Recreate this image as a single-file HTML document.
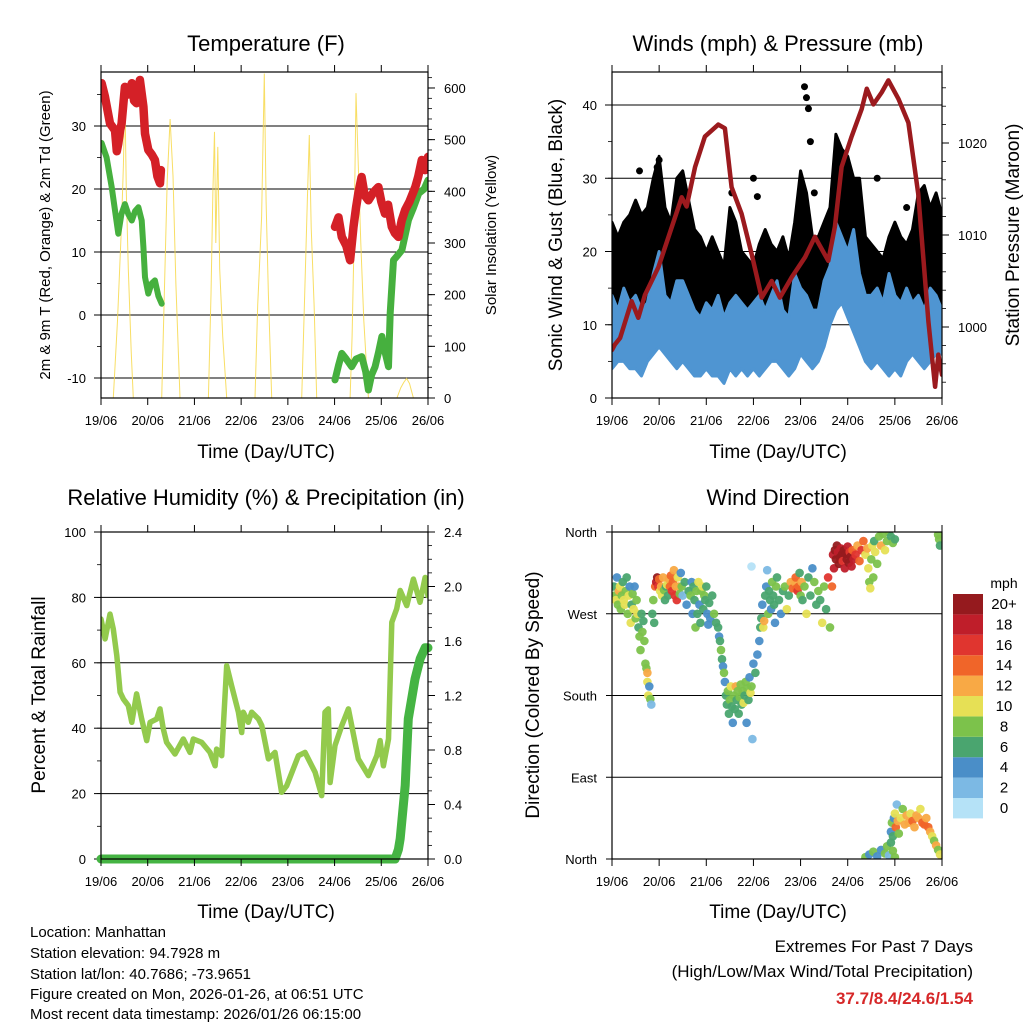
<!DOCTYPE html>
<html><head><meta charset="utf-8">
<style>
html,body{margin:0;padding:0;background:#fff;}
svg{display:block;font-family:"Liberation Sans",Arial,sans-serif;}
.tl{font-size:13px;fill:#000;}
.ttl{font-size:22px;fill:#000;}
.ax{font-size:19px;fill:#000;}
.info{font-size:15px;fill:#000;}
</style></head>
<body>
<svg id="chart" width="1024" height="1024" viewBox="0 0 1024 1024" xmlns="http://www.w3.org/2000/svg">
<defs>
<clipPath id="c1"><rect x="101" y="72" width="327" height="326"/></clipPath>
<clipPath id="c2"><rect x="612" y="72" width="330" height="326"/></clipPath>
<clipPath id="c3"><rect x="101" y="532" width="327" height="327"/></clipPath>
<clipPath id="c4"><rect x="612" y="532" width="330" height="327"/></clipPath>
</defs>
<text class="ttl" x="266" y="51" text-anchor="middle">Temperature (F)</text>
<text class="ttl" x="778" y="51" text-anchor="middle">Winds (mph) &amp; Pressure (mb)</text>
<text class="ttl" x="266" y="505" text-anchor="middle">Relative Humidity (%) &amp; Precipitation (in)</text>
<text class="ttl" x="778" y="505" text-anchor="middle">Wind Direction</text>
<text class="ax" x="266" y="458" text-anchor="middle">Time (Day/UTC)</text>
<text class="ax" x="778" y="458" text-anchor="middle">Time (Day/UTC)</text>
<text class="ax" x="266" y="918" text-anchor="middle">Time (Day/UTC)</text>
<text class="ax" x="778" y="918" text-anchor="middle">Time (Day/UTC)</text>
<text x="50" y="235" transform="rotate(-90 50 235)" text-anchor="middle" style="font-size:15px">2m &amp; 9m T (Red, Orange) &amp; 2m Td (Green)</text>
<text x="496" y="235" transform="rotate(-90 496 235)" text-anchor="middle" style="font-size:15px">Solar Insolation (Yellow)</text>
<text x="562" y="235" transform="rotate(-90 562 235)" text-anchor="middle" class="ax">Sonic Wind &amp; Gust (Blue, Black)</text>
<text x="1019" y="235" transform="rotate(-90 1019 235)" text-anchor="middle" class="ax">Station Pressure (Maroon)</text>
<text x="45" y="695" transform="rotate(-90 45 695)" text-anchor="middle" class="ax">Percent &amp; Total Rainfall</text>
<text x="539" y="695" transform="rotate(-90 539 695)" text-anchor="middle" class="ax">Direction (Colored By Speed)</text>
<g>
<text class="info" x="30" y="937">Location: Manhattan</text>
<text class="info" x="30" y="958">Station elevation: 94.7928 m</text>
<text class="info" x="30" y="979">Station lat/lon: 40.7686; -73.9651</text>
<text class="info" x="30" y="999">Figure created on Mon, 2026-01-26, at 06:51 UTC</text>
<text class="info" x="30" y="1019">Most recent data timestamp: 2026/01/26 06:15:00</text>
</g>
<g>
<text x="973" y="952" text-anchor="end" style="font-size:17px">Extremes For Past 7 Days</text>
<text x="973" y="977" text-anchor="end" style="font-size:17px">(High/Low/Max Wind/Total Precipitation)</text>
<text x="973" y="1004" text-anchor="end" style="font-size:17px;font-weight:bold;fill:#d62728">37.7/8.4/24.6/1.54</text>
</g>
</svg>
<script>
// ---------- data ----------
const dayLabels = ["19/06","20/06","21/06","22/06","23/06","24/06","25/06","26/06"];
const tempTicks = [-10,0,10,20,30];
const solarTicks = [0,100,200,300,400,500,600];
const windTicks = [0,10,20,30,40];
const presTicks = [1000,1010,1020];
const rhTicks = [0,20,40,60,80,100];
const precTicks = ["0.0","0.4","0.8","1.2","1.6","2.0","2.4"];
const dirTicks = [0,90,180,270,360];
const dirLabels = ["North","East","South","West","North"];
const speedLabels = ["0","2","4","6","8","10","12","14","16","18","20+"];
const speedColors = ["#b5e2f7","#7cb9e4","#4a8ec8","#4aa56f","#7cc24b","#e6e055","#f8a945","#f06529","#e0352f","#bf1e2a","#951a1e"];

const tempT1 = [0.3,2,4.6,7.2,8.1,8.9,9.8,10.6,12.3,14,15.8,17,18.3,20,21.8,22.6,24.3,26,27.7,29,30.3,30.8];
const tempV1 = [36.8,34.7,30.4,29.3,26,27.2,29.3,30.4,36.2,35,36.8,34,33.6,37.3,33.1,28.8,26.2,25.5,24.6,22,20.9,23];
const tempT2 = [120.2,122,123.7,126,128,129.7,131,132.2,133.9,135.5,137.4,140,142.5,144,145.9,147.5,149.4,151,152.8,154.5,156.3,158.5,161.5,163,164.8,166.5,168];
const tempV2 = [14,15.5,12.4,11,8.7,14,17,19.3,21.9,19,18.2,19.5,20.3,18,16.1,17.5,14,13,12.4,15,16.7,18,20.3,22,24.6,23,25.1];
const dewT1 = [0.3,2.9,5.5,8.9,10.5,12.3,14,15.8,17.5,19.2,20.9,21.8,22.6,24.3,26,27.7,29.5,31.2];
const dewV1 = [27.3,25,20.3,12.9,16,17.6,16,15,16.5,17.1,15,10.8,6,3.4,5,5.5,3,1.8];
const dewT2 = [120.2,122,123.7,126,128.8,131,134,136,137.4,139,140.8,142.5,144.3,146,147.7,148.6,150.3,152.5,154.6,156.5,158,160.5,163.2,166,168];
const dewV2 = [-10.3,-8,-6.1,-7,-8.2,-7,-6.6,-9,-11.9,-9.5,-8.2,-6,-3.4,-6,-8.2,0.3,8.7,9.5,10.3,13,15.1,17,19.3,20,21.4];
const solarT = [6.3,8.5,10.5,11.5,12.3,13,14,15.5,16.6, 31.2,32.5,34,35.5,37,38.5,40.6, 55.2,56.5,57.5,58.3,59,60,61,62.5,64.6, 79.1,80.5,81.5,82.5,83.9,84.8,86,87.7, 103.1,104.5,106,107,108,109.5,110.8, 128,129,130,131,132,133.5,135,137.4, 152,154,155.5,157,158.5,160.5];
const solarV = [0,150,330,450,590,400,250,90,0, 0,200,420,540,430,220,0, 0,200,400,515,300,486,250,120,0, 0,180,260,350,628,380,200,0, 0,180,380,509,330,180,0, 0,120,300,590,474,300,150,0, 0,20,30,38,28,0];

const windT = [0,3,6,9,12,15,18,21,24,27,30,33,36,39,42,45,48,51,54,57,60,63,66,69,72,75,78,81,84,87,90,93,96,99,102,105,108,111,114,117,120,123,126,129,132,135,138,141,144,147,150,153,156,159,162,165,168];
const gustHigh = [24,22,24,25,27,25,26,30,33,26,24,30,31,27,23,22,20,22,20,18,26,24,20,19,18,21,23,21,20,22,19,24,31,28,22,22,24,26,36,34,33,30,30,22,21,20,19,22,24,22,21,23,28,29,26,28,25];
const sustHigh = [14,12,15,13,14,12,13,17,20,14,13,16,16,14,12,11,13,12,14,11,13,14,13,12,13,14,12,14,16,12,11,17,15,14,12,12,16,18,24,22,20,23,17,14,14,15,13,17,14,13,15,13,14,12,15,14,12];
const sustLow = [4,5,5,4,4,3,5,6,7,6,5,4,5,4,3,3,4,3,3,2,4,3,4,3,4,3,4,5,5,4,3,4,6,5,4,5,7,10,12,13,11,9,7,5,4,5,4,3,4,3,5,6,5,4,5,6,6];
const gustOutT = [14,23,24,61,72,74,98,99,100,101,103,135,150];
const gustOutV = [31,31.5,32.5,28,30,27.5,42.5,41,39.5,35,28,30,26];
const presT = [0,1.5,4.1,10,13.4,16.8,23.6,35.5,38,42.3,47.3,54.1,57.5,60.9,66,71.1,76.2,81.3,85.5,91.5,98.3,103.3,110.1,113.5,116.9,122,127.1,129.7,133.1,137.3,140.7,145.8,150.9,155.9,161.1,164.5,166.1,168];
const presV = [997.5,998.1,998.8,1002.8,1001,1003.5,1006.5,1014.1,1013.1,1017.4,1020.7,1022,1021.6,1015.2,1012.3,1007.9,1003.2,1005,1003.2,1005.4,1007.6,1009.8,1007.2,1010.9,1017.4,1020.7,1023.7,1025.9,1024.2,1025.5,1026.8,1024.8,1022.2,1014.5,1000.6,993.5,997,994.8];

const rhT = [0,2.1,4.6,6.3,8.1,9.8,11.5,14,15.8,18.3,20.9,23.5,25.2,28.6,30.3,32,33.7,38,42.3,45.7,47.4,51.7,56,58.6,59.4,62,64.6,67.1,70.6,72.3,73.1,75.7,77.4,80.9,82.6,86,89.4,92.8,95.4,101.4,104.8,110,113.4,115.1,116.8,117.7,120.2,123.7,127.1,132.2,137.4,141.7,143.4,145.1,147.7,149.4,151.9,153.7,157.1,160.5,163.9,166.5,168];
const rhV = [73.4,67.3,74.9,70.3,62.2,51,48.9,46.9,41.8,50.5,42.8,36.2,41.8,42.8,45.9,39.8,35.7,32.1,36.7,32.6,36.7,35.7,32.6,28.5,33.6,31.6,59.1,53,44.9,38.7,44.9,41.8,44.9,42.8,40.8,30.6,32.6,20.4,22.4,31.6,32.6,26.5,19.4,44.9,45.9,23.4,34.7,40.8,45.9,30.6,25.5,31.6,36.2,28.5,36.7,72.4,76.5,82.1,77.5,85.6,78.5,86.1,80.5];
const precT = [0,151.1,152.8,153.7,156.3,157.9,161.3,164,166.5,168];
const precV = [0,0,0.07,0.15,0.54,1.03,1.32,1.47,1.55,1.55];

const dirT = [1,1.5,2,2.5,3,3.5,4,4.5,5,5.5,6,6.5,7,7.5,8,8.5,9,9.5,10,10.5,11,11.5,12,12.5,13,
13.5,14,14.5,15,15.5,16,16.5,17,17.5,18,18,18.5,19,19.5,20,20.5,21,21.5,
22,22.5,23,23.5,24,24.5,25,25.5,26,26.5,27,27.5,28,28.5,29,29.5,30,30.5,31,31.5,32,32.5,33,33.5,34,34.5,35,35.5,36,37,38,39,
40,40.5,41,41.5,42,42.5,43,43.5,44,44.5,45,45.5,46,46.5,47,47.5,48,48.5,49,49.5,50,51,52,53,54,54.5,55,55.5,56,56.5,57,
57.5,58,58.5,59,59.5,60,60.5,61,61.5,62,62.5,63,63.5,64,64.5,65,65.5,66,66.5,67,67.5,68,68.5,69,69.5,70,70.5,71,72,73,74,75,75.5,71.5,71,
76,76.5,77,77.5,78,78.5,79,79.5,80,80.5,81,81.5,82,82.5,83,83.5,84,85,86,87,88,89,90,91,92,
93,93.5,94,94.5,95,95.5,96,96.5,97,98,99,100,101,102,103,104,105,106,107,108,109,110,111,112,113,
112.5,113.5,114,114.5,115,115.5,116,116.5,117,117.5,118,118.5,119,119.5,120,120.5,121,121.5,122,122.5,123,124,125,126,127,128,129,130,
130.5,131,131.5,132,132.5,133,133.5,134,135,136,137,138,139,140,141,142,143,144,
166,166.5,167,
129,131,133,135,137,139,140,141,142,143,144,
142,142.5,143,143.5,144,144.5,145,145.5,146,147,148,149,150,151,152,153,154,155,156,157,158,159,160,161,162,163,164,165,166,167];
const dirV = [300,290,285,310,280,295,300,275,290,305,285,280,295,310,270,290,300,260,280,292,275,300,265,285,270,
255,245,230,270,250,262,240,215,210,205,195,180,190,176,170,270,285,260,
300,305,310,300,308,295,300,290,310,296,285,300,302,290,308,300,312,295,305,318,290,300,285,310,300,292,315,300,290,305,280,295,
290,305,270,300,285,255,295,270,305,280,260,295,300,275,290,285,300,270,258,282,265,290,270,260,255,245,240,230,220,212,205,
195,180,170,185,160,175,190,168,150,180,165,190,175,185,160,178,192,170,185,172,180,195,150,188,175,200,183,190,215,205,225,240,255,132,322,
265,280,255,262,290,300,318,270,295,285,275,305,290,280,260,300,310,285,270,295,300,275,290,305,298,
305,310,298,295,300,315,290,305,285,300,270,310,290,320,305,280,295,285,260,300,275,310,255,300,320,
335,340,330,345,338,325,332,342,335,328,340,320,336,330,344,326,338,333,322,340,330,335,345,328,340,350,335,342,
320,305,298,330,345,310,350,338,325,355,345,358,340,350,360,355,348,352,
357,352,345,
2,5,8,3,10,6,14,4,18,9,2,
30,40,25,45,50,35,60,42,28,45,55,38,48,40,50,42,35,48,45,55,40,38,45,35,30,25,20,15,10,5];
const dirS = [6,8,10,4,8,12,10,9,8,7,11,10,9,6,9,10,4,10,7,9,11,4,8,9,10,
7,9,8,6,9,7,8,9,8,12,10,11,5,9,3,7,8,6,
14,18,20,16,14,10,12,10,12,8,6,7,10,6,12,14,15,16,14,13,17,12,16,10,12,9,4,8,3,6,4,6,
8,5,4,7,6,8,9,6,10,5,7,9,10,6,8,7,6,4,4,6,5,7,8,6,6,4,7,8,6,4,9,
4,6,7,8,6,8,10,7,4,8,6,12,7,8,6,9,8,7,8,10,7,9,4,8,6,4,10,8,4,6,4,4,6,2,1,
6,4,10,12,6,4,2,8,6,7,5,8,6,7,4,9,6,7,5,6,8,10,7,12,14,
12,14,15,16,14,7,8,12,6,8,10,6,7,4,8,6,9,7,10,8,6,16,8,14,18,
18,20,22,21,19,20,23,18,22,17,21,19,24,20,18,22,16,20,19,14,18,16,12,14,16,15,10,12,
10,8,10,9,11,8,7,10,8,9,12,8,10,9,8,6,8,7,
9,8,7,
8,4,8,4,4,8,8,3,6,8,8,
4,8,6,4,10,14,2,12,8,10,8,12,13,12,10,14,12,13,12,10,14,15,12,14,12,10,8,12,9,10];

// ---------- helpers ----------
const NS = "http://www.w3.org/2000/svg";
const svg = document.getElementById("chart");
function mk(tag, attrs, parent){ const e=document.createElementNS(NS,tag); for(const k in attrs) e.setAttribute(k,attrs[k]); (parent||svg).appendChild(e); return e; }
function txt(x,y,s,anchor,parent,cls){ const e=mk("text",{x:x,y:y,"text-anchor":anchor||"middle","class":cls||"tl"},parent); e.textContent=s; return e; }

const P1={x0:101,x1:428,y0:72,y1:398}, P2={x0:612,x1:942,y0:72,y1:398}, P3={x0:101,x1:428,y0:532,y1:859}, P4={x0:612,x1:942,y0:532,y1:859};
function xs(P,t){ return P.x0 + t/168*(P.x1-P.x0); }
const yTemp = v => 315 - v*6.3;
const ySolar = v => 398 - v*0.5167;
const yWind = v => 398 - v*7.325;
const yPres = v => 327 - (v-1000)*9.2;
const yRH = v => 859 - v*3.27;
const yPrec = v => 859 - v/2.4*327;
const yDir = v => 859 - v/360*327;
function pts(P,T,V,f){ return T.map((t,i)=>xs(P,t).toFixed(1)+","+f(V[i]).toFixed(1)).join(" "); }

function xAxis(P,name){
  const g=mk("g",{});
  
  
  dayLabels.forEach((s,i)=>{
    const x=xs(P,i*24);
    mk("line",{x1:x,x2:x,y1:P.y1,y2:P.y1+7,stroke:"#000","stroke-width":1},g);
    mk("line",{x1:x,x2:x,y1:P.y0,y2:P.y0-7,stroke:"#000","stroke-width":1},g);
    const t=txt(x,P.y1+27,s,"middle",g);
    
    
  });
}
function frame(P,name){
  const r=mk("rect",{x:P.x0,y:P.y0,width:P.x1-P.x0,height:P.y1-P.y0,fill:"none",stroke:"#000","stroke-width":1.2});
  
  
}
function hgrid(P,vals,f,g){ vals.forEach(v=>{ const y=f(v); if(y>P.y0+1&&y<P.y1-1) mk("line",{x1:P.x0,x2:P.x1,y1:y,y2:y,stroke:"#000","stroke-width":1},g); }); }
function yTicks(P,vals,labels,f,side,minorStep,minMax,g){
  const x=side==="L"?P.x0:P.x1, d=side==="L"?-1:1;
  vals.forEach((v,i)=>{ const y=f(v);
    mk("line",{x1:x,x2:x+d*7,y1:y,y2:y,stroke:"#000","stroke-width":1},g);
    const t=txt(x+d*(side==="L"?15:16),y+5,labels[i],side==="L"?"end":"start",g);
    
    
  });
  if(minorStep){ for(let v=minMax[0]; v<=minMax[1]+1e-9; v+=minorStep){ const y=f(v); if(y>=P.y0-0.5&&y<=P.y1+0.5) mk("line",{x1:x,x2:x+d*4,y1:y,y2:y,stroke:"#000","stroke-width":0.8},g);} }
}

// ---------- Panel 1: temperature ----------
(function(){
  const g=mk("g",{});  
  hgrid(P1,tempTicks,yTemp,g);
  const cl=mk("g",{"clip-path":"url(#c1)"},g);
  const s=mk("polyline",{points:pts(P1,solarT,solarV,ySolar),fill:"none",stroke:"#f7d84a","stroke-width":1,opacity:0.85},cl);
   
  const d1=mk("polyline",{points:pts(P1,dewT1,dewV1,yTemp),fill:"none",stroke:"#46b03e","stroke-width":6,"stroke-linejoin":"round","stroke-linecap":"round"},cl);
   
  const d2=mk("polyline",{points:pts(P1,dewT2,dewV2,yTemp),fill:"none",stroke:"#46b03e","stroke-width":7,"stroke-linejoin":"round","stroke-linecap":"round"},cl);
   
  const r1=mk("polyline",{points:pts(P1,tempT1,tempV1,yTemp),fill:"none",stroke:"#d42027","stroke-width":8.5,"stroke-linejoin":"round","stroke-linecap":"round"},cl);
   
  const r2=mk("polyline",{points:pts(P1,tempT2,tempV2,yTemp),fill:"none",stroke:"#d42027","stroke-width":8.5,"stroke-linejoin":"round","stroke-linecap":"round"},cl);
   
  yTicks(P1,tempTicks,tempTicks.map(String),yTemp,"L",5,[-15,40],g);
  yTicks(P1,solarTicks,solarTicks.map(String),ySolar,"R",20,[0,640],g);
})();
frame(P1,"temperature-frame"); xAxis(P1,"temperature-x-axis");

// ---------- Panel 2: winds & pressure ----------
(function(){
  const g=mk("g",{});  
  hgrid(P2,windTicks,yWind,g);
  const cl=mk("g",{"clip-path":"url(#c2)"},g);
  const gustLow = sustHigh.map(v=>v-3);
  const gp = windT.map((t,i)=>xs(P2,t).toFixed(1)+","+yWind(gustHigh[i]).toFixed(1)).concat(windT.map((t,i)=>xs(P2,t).toFixed(1)+","+yWind(gustLow[i]).toFixed(1)).reverse()).join(" ");
  const gb=mk("polygon",{points:gp,fill:"#000",stroke:"#000","stroke-width":3,"stroke-linejoin":"round"},cl);
   
  gustOutT.forEach((t,i)=>{ const c=mk("circle",{cx:xs(P2,t),cy:yWind(gustOutV[i]),r:3.5,fill:"#000"},cl);
      });
  const bp = windT.map((t,i)=>xs(P2,t).toFixed(1)+","+yWind(sustHigh[i]).toFixed(1)).concat(windT.map((t,i)=>xs(P2,t).toFixed(1)+","+yWind(sustLow[i]).toFixed(1)).reverse()).join(" ");
  const bb=mk("polygon",{points:bp,fill:"#4f95d2",stroke:"#4f95d2","stroke-width":3,"stroke-linejoin":"round"},cl);
   
  const pl=mk("polyline",{points:pts(P2,presT,presV,yPres),fill:"none",stroke:"#9b1a1e","stroke-width":4.5,"stroke-linejoin":"round","stroke-linecap":"round"},cl);
   
  yTicks(P2,windTicks,windTicks.map(String),yWind,"L",5,[0,45],g);
  yTicks(P2,presTicks,presTicks.map(String),yPres,"R",2,[992,1028],g);
})();
frame(P2,"winds-frame"); xAxis(P2,"winds-x-axis");

// ---------- Panel 3: RH & precip ----------
(function(){
  const g=mk("g",{});  
  hgrid(P3,rhTicks,yRH,g);
  const cl=mk("g",{"clip-path":"url(#c3)"},g);
  const rl=mk("polyline",{points:pts(P3,rhT,rhV,yRH),fill:"none",stroke:"#93ca4d","stroke-width":5.5,"stroke-linejoin":"round","stroke-linecap":"round"},cl);
   
  const pr=mk("polyline",{points:pts(P3,precT,precV,yPrec),fill:"none",stroke:"#45b443","stroke-width":9,"stroke-linejoin":"round","stroke-linecap":"round"},svg);
   
  yTicks(P3,rhTicks,rhTicks.map(String),yRH,"L",10,[0,100],g);
  yTicks(P3,precTicks.map(Number),precTicks,yPrec,"R",0.1,[0,2.4],g);
})();
frame(P3,"humidity-frame"); xAxis(P3,"humidity-x-axis");

// ---------- Panel 4: wind direction ----------
(function(){
  const g=mk("g",{});  
  hgrid(P4,dirTicks,yDir,g);
  const cl=mk("g",{"clip-path":"url(#c4)"},g);
  dirT.forEach((t,i)=>{
    const ci=Math.min(10,Math.floor(dirS[i]/2));
    const c=mk("circle",{cx:xs(P4,t).toFixed(1),cy:yDir(dirV[i]).toFixed(1),r:4.3,fill:speedColors[ci],opacity:0.95},cl);
    
    
  });
  dirTicks.forEach((v,i)=>{ const y=yDir(v);
    mk("line",{x1:P4.x0,x2:P4.x0-6,y1:y,y2:y,stroke:"#000"},g);
    const t=txt(P4.x0-15,y+5,dirLabels[i],"end",g);
    
    
  });
  const lg=mk("g",{});  
  const t0=txt(1004,588,"mph","middle",lg,"tl"); t0.setAttribute('style','font-size:14px');
  speedLabels.forEach((s,i)=>{
    const k=10-i, y=594+k*20.4;
    const r=mk("rect",{x:953,y:y,width:30,height:20.4,fill:speedColors[i]},lg);
    
    
    const tt=txt(1004,y+15,s,"middle",lg,"tl"); tt.setAttribute('style','font-size:15px');
    
    
  });
})();
frame(P4,"wind-direction-frame"); xAxis(P4,"wind-direction-x-axis");
</script>
</body></html>
